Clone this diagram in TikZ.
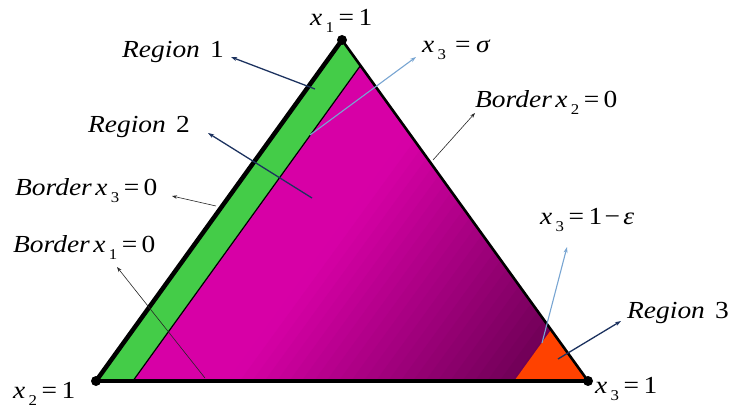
\documentclass[tikz,border=0pt]{standalone}
\usepackage{fontspec}
\setmainfont{Liberation Serif}
\usetikzlibrary{arrows.meta,calc}
\definecolor{brightmag}{RGB}{215,0,166}
\definecolor{darkmag}{RGB}{85,0,66}
\definecolor{regiongreen}{RGB}{68,204,72}
\definecolor{regionorange}{RGB}{255,66,0}
\definecolor{navyarrow}{RGB}{28,50,95}
\definecolor{lightarrow}{RGB}{120,165,210}
\newcommand{\lblfont}{\fontsize{24.5}{28}\selectfont}
\newcommand{\xsub}[1]{\textit{x}\kern3pt\raisebox{-7pt}{\fontsize{15}{15}\selectfont #1}}
\newcommand{\wide}[1]{\scalebox{1.12}[1]{#1}}
\newcommand{\eqs}{\kern4pt=\kern4pt}
\tikzset{
  lbl/.style={anchor=base west, inner sep=0pt, font=\lblfont},
  navyline/.style={draw=navyarrow, line width=1.3pt, -{Stealth[length=6pt,width=4pt]}},
  blueline/.style={draw=lightarrow, line width=1.1pt, -{Stealth[length=6pt,width=4pt]}},
  thinline/.style={draw=black!85, line width=0.6pt, -{Stealth[length=5pt,width=3.5pt]}},
  vdot/.style={circle, fill=black, inner sep=0pt, minimum size=10pt}
}
\begin{document}
\begin{tikzpicture}[x=1pt,y=-1pt]
\useasboundingbox (0,0) rectangle (735,411);
% vertices
\coordinate (A) at (342,40);
\coordinate (B) at (96,381);
\coordinate (C) at (588,381);
% region boundaries
\coordinate (Gb) at ($(B)!0.075!(C)$);
\coordinate (Gt) at ($(A)!0.075!(C)$);
\coordinate (Ob) at ($(C)!0.15!(B)$);
\coordinate (Ot) at ($(C)!0.15!(A)$);
% magenta region (whole triangle), gradient in bands
\begin{scope}
\clip (A) -- (B) -- (C) -- cycle;
\foreach \i in {0,...,40}{
  \pgfmathsetmacro\ta{298+10*\i}
  \pgfmathsetmacro\tb{\ta+11}
  \pgfmathsetmacro\ff{(\ta+5-300)/400}
  \pgfmathsetmacro\pp{\ff<0.28 ? 100 : max(0,100*(1-(\ff-0.28)/0.72))}
  \fill[brightmag!\pp!darkmag]
    ({0.809*\ta+411.6},{0.588*\ta-566.3}) -- ({0.809*\tb+411.6},{0.588*\tb-566.3})
    -- ({0.809*\tb-411.6},{0.588*\tb+566.3}) -- ({0.809*\ta-411.6},{0.588*\ta+566.3}) -- cycle;
}
\end{scope}
% region 1 (green)
\fill[regiongreen] (B) -- (A) -- (Gt) -- (Gb) -- cycle;
\draw[black, line width=1.2pt] (Gb) -- (Gt);
% region 3 (orange)
\fill[regionorange] (Ob) -- (Ot) -- (C) -- cycle;
% triangle outline
\draw[black, line width=2.6pt] (A) -- (C);
\draw[black, line width=4.5pt, line cap=round] (B) -- (A);
\draw[black, line width=4.5pt, line cap=round] (B) -- (C);
\node[vdot] (vA) at (A) {};
\node[vdot] (vB) at (B) {};
\node[vdot] (vC) at (C) {};
% labels
\node[lbl] (lx1) at (310,26) {\wide{\xsub{1}\eqs1}};
\node[lbl] (lreg1) at (122,58) {\wide{\textit{Region}\kern9pt1}};
\node[lbl] (lreg2) at (88,133) {\wide{\textit{Region}\kern9pt2}};
\node[lbl] (lb3) at (15,196) {\wide{\textit{Border}\kern3pt\xsub{3}\eqs0}};
\node[lbl] (lb1) at (13,253) {\wide{\textit{Border}\kern3pt\xsub{1}\eqs0}};
\node[lbl] (lsig) at (422,53) {\wide{\xsub{3}\kern8pt=\kern5pt\textit{σ}}};
\node[lbl] (lb2) at (475,108) {\wide{\textit{Border}\kern3pt\xsub{2}\eqs0}};
\node[lbl] (leps) at (540,225) {\wide{\xsub{3}\eqs1\kern2pt−\kern3pt\textit{ε}}};
\node[lbl] (lreg3) at (627,318) {\wide{\textit{Region}\kern9pt3}};
\node[lbl] (lx3) at (595,393) {\wide{\xsub{3}\eqs1}};
\node[lbl] (lx2) at (13,398) {\wide{\xsub{2}\eqs1}};
% arrow end points
\coordinate (s1) at (315,89);   \coordinate (t1) at (231,57);
\coordinate (s2) at (312,198);  \coordinate (t2) at (208,133);
\coordinate (ss) at (310,135);  \coordinate (ts) at (416,57);
\coordinate (sb2) at (433,160); \coordinate (tb2) at (475,113);
\coordinate (sb3) at (216,206); \coordinate (tb3) at (172,196);
\coordinate (sb1) at (205,378); \coordinate (tb1) at (117,267);
\coordinate (se) at (542,343);  \coordinate (te) at (567,247);
\coordinate (s3) at (558,359);  \coordinate (t3) at (621,321);
% arrows
\draw[navyline] (s1) -- (t1);
\draw[navyline] (s2) -- (t2);
\draw[blueline] (ss) -- (ts);
\draw[thinline] (sb2) -- (tb2);
\draw[thinline] (sb3) -- (tb3);
\draw[thinline] (sb1) -- (tb1);
\draw[blueline] (se) -- (te);
\draw[navyline] (s3) -- (t3);
\end{tikzpicture}
\end{document}
